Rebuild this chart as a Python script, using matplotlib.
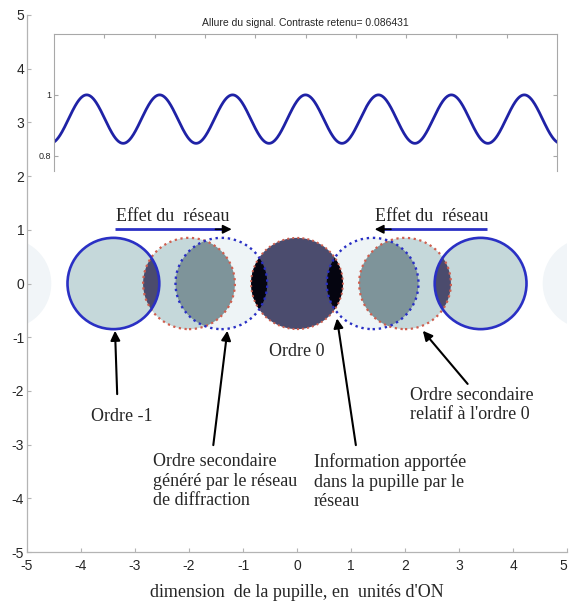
import numpy as np
import matplotlib
matplotlib.use("Agg")
import matplotlib.pyplot as plt
from matplotlib.patches import Circle

# ---------------- data ----------------
x_ticks = [-5, -4, -3, -2, -1, 0, 1, 2, 3, 4, 5]
y_ticks = [-5, -4, -3, -2, -1, 0, 1, 2, 3, 4, 5]

pupil_radius = 0.85
faint_centers = [-5.4, 5.4]          # far orders (faint)
order_centers = [-3.4, 3.4]          # ordre -1 / +1 (solid blue)
secondary_centers = [-2.0, 2.0]      # ordre secondaire relatif a l'ordre 0 (red dotted)
shifted_centers = [-1.4, 1.4]        # ordre secondaire genere par le reseau (blue dotted)
zero_center = 0.0                    # ordre 0

contrast = 0.086431
signal_max = 1.0
signal_period = 0.145                # in inset x units (0..1)
signal_first_peak = 0.065
inset_ylim = (0.75, 1.2)
inset_yticks = [0.8, 1.0]
inset_yticklabels = ["0.8", "1"]
inset_xticks = [0.1, 0.2, 0.3, 0.4, 0.5, 0.6, 0.7, 0.8, 0.9]

# ---------------- colours ----------------
c_blue_edge = "#2a30c4"
c_red_edge = "#cf5f4f"
c_light = "#c5d8da"
c_verylight = "#eef4f6"
c_faint = "#f1f5f8"
c_rb = "#7e949a"
c_sr = "#4b4b6d"
c_zero = "#4b4c6e"
c_black = "#050510"
c_text = "#262626"

serif = ["Liberation Serif", "DejaVu Serif"]
sans = ["Liberation Sans", "DejaVu Sans"]
fs_serif = 13

fig = plt.figure(figsize=(5.69, 6.05), dpi=100)
ax = fig.add_axes([27 / 569, 1 - 552 / 605, 540 / 569, 537 / 605])
ax.set_xlim(-5, 5)
ax.set_ylim(-5, 5)
for s in ["top", "right"]:
    ax.spines[s].set_visible(False)
for s in ["left", "bottom"]:
    ax.spines[s].set_color("#b4b4b4")
    ax.spines[s].set_linewidth(0.9)
ax.set_xticks(x_ticks)
ax.set_yticks(y_ticks)
xtl = ax.set_xticklabels([str(v) for v in x_ticks], family=sans, fontsize=10, color=c_text)
xtl[-1].set_horizontalalignment("right")
ax.set_yticklabels([str(v) for v in y_ticks], family=sans, fontsize=10, color=c_text)
ax.tick_params(axis="both", direction="in", length=3, color="#b4b4b4", width=0.8)
ax.tick_params(axis="x", pad=5)
ax.tick_params(axis="y", pad=2)
ax.set_xlabel("dimension  de la pupille, en  unités d'ON", family=serif, fontsize=fs_serif,
              color=c_text, labelpad=8)


def circ(cx, **kw):
    return Circle((cx, 0.0), pupil_radius, transform=ax.transData, **kw)


def add(p, clip=None):
    ax.add_patch(p)
    if clip is not None:
        p.set_clip_path(clip)
    return p


# faint circles
for cx in faint_centers:
    add(circ(cx, facecolor=c_faint, edgecolor="none", zorder=1))

# fills
for cx in shifted_centers:
    add(circ(cx, facecolor=c_verylight, edgecolor="none", zorder=2))
for cx in secondary_centers:
    add(circ(cx, facecolor=c_light, edgecolor="none", zorder=3))
for cx in order_centers:
    add(circ(cx, facecolor=c_light, edgecolor="none", zorder=3))

# intersections secondary & shifted
for rc, bc in zip(secondary_centers, shifted_centers):
    clipc = circ(bc, facecolor="none", edgecolor="none")
    add(circ(rc, facecolor=c_rb, edgecolor="none", zorder=4), clip=clipc)
# intersections order & secondary
for sc, rc in zip(order_centers, secondary_centers):
    clipc = circ(rc, facecolor="none", edgecolor="none")
    add(circ(sc, facecolor=c_sr, edgecolor="none", zorder=4), clip=clipc)

# ordre 0
add(circ(zero_center, facecolor=c_zero, edgecolor="none", zorder=5))
for bc in shifted_centers:
    clipc = circ(bc, facecolor="none", edgecolor="none")
    add(circ(zero_center, facecolor=c_black, edgecolor="none", zorder=6), clip=clipc)

# edges
dot = (0, (1.0, 1.6))
add(circ(zero_center, facecolor="none", edgecolor=c_red_edge, lw=1.4, ls=dot, zorder=7))
for cx in secondary_centers:
    add(circ(cx, facecolor="none", edgecolor=c_red_edge, lw=1.6, ls=dot, zorder=7))
for cx in shifted_centers:
    add(circ(cx, facecolor="none", edgecolor=c_blue_edge, lw=1.7, ls=dot, zorder=8))
for cx in order_centers:
    add(circ(cx, facecolor="none", edgecolor=c_blue_edge, lw=1.9, zorder=8))

# "Effet du reseau" arrows
effet_arrows = [((-3.37, 1.01), (-1.21, 1.01)), ((3.52, 1.01), (1.44, 1.01))]
effet_text_pos = [(-2.31, 1.24), (2.5, 1.24)]
for (x0, y0), (x1, y1) in effet_arrows:
    d = np.sign(x1 - x0)
    ax.plot([x0, x1 - d * 0.15], [y0, y1], color=c_blue_edge, lw=2, zorder=9,
            solid_capstyle="butt")
    ax.annotate("", xy=(x1, y1), xytext=(x1 - d * 0.3, y1),
                arrowprops=dict(arrowstyle="-|>", color="black", lw=1.2,
                                mutation_scale=13, shrinkA=0, shrinkB=0), zorder=10)
for (tx, ty) in effet_text_pos:
    ax.text(tx, ty, "Effet du  réseau", family=serif, fontsize=fs_serif, color=c_text,
            ha="center", va="center", zorder=10)

# annotations
ann = [
    ((-3.37, -0.88), (-3.33, -2.06)),
    ((-1.29, -0.88), (-1.55, -3.01)),
    ((0.74, -0.65), (1.09, -3.01)),
    ((2.33, -0.88), (3.16, -1.87)),
]
for tip, tail in ann:
    ax.annotate("", xy=tip, xytext=tail,
                arrowprops=dict(arrowstyle="-|>", color="black", lw=1.5,
                                mutation_scale=14, shrinkA=0, shrinkB=0), zorder=10)

ax.text(-3.24, -2.47, "Ordre -1", family=serif, fontsize=fs_serif, color=c_text,
        ha="center", va="center")
ax.text(0.0, -1.26, "Ordre 0", family=serif, fontsize=fs_serif, color=c_text,
        ha="center", va="center")
ax.text(-2.66, -3.16, "Ordre secondaire\ngénéré par le réseau\nde diffraction", family=serif,
        fontsize=fs_serif, color=c_text, ha="left", va="top", linespacing=1.2)
ax.text(0.31, -3.16, "Information apportée\ndans la pupille par le\nréseau", family=serif,
        fontsize=fs_serif, color=c_text, ha="left", va="top", linespacing=1.2)
ax.text(2.09, -1.92, "Ordre secondaire\nrelatif à l'ordre 0", family=serif,
        fontsize=fs_serif, color=c_text, ha="left", va="top", linespacing=1.17)

# ---------------- inset ----------------
ins = fig.add_axes([54 / 569, 1 - 171 / 605, 503 / 569, 137 / 605])
ins.set_xlim(0, 1)
ins.set_ylim(*inset_ylim)
signal_min = signal_max * (1 - contrast) / (1 + contrast)
mean = (signal_max + signal_min) / 2
amp = (signal_max - signal_min) / 2
xs = np.linspace(0, 1, 1000)
ys = mean + amp * np.cos(2 * np.pi * (xs - signal_first_peak) / signal_period)
ins.plot(xs, ys, color="#1f22a6", lw=2)
ins.spines["bottom"].set_visible(False)
for s in ["left", "right", "top"]:
    ins.spines[s].set_color("#a8a8a8")
    ins.spines[s].set_linewidth(0.8)
ins.set_yticks(inset_yticks)
ins.set_yticklabels(inset_yticklabels, family=sans, fontsize=6.5, color=c_text)
ins.set_xticks(inset_xticks)
ins.tick_params(axis="x", top=True, bottom=False, labeltop=False, labelbottom=False,
                direction="in", length=3, color="#a8a8a8")
ins.tick_params(axis="y", left=True, right=True, direction="in", length=3,
                color="#a8a8a8", pad=2)
ins.set_title("Allure du signal. Contraste retenu= 0.086431", family=sans,
              fontsize=7.5, color=c_text, pad=6)

fig.savefig("out.png", dpi=100)
